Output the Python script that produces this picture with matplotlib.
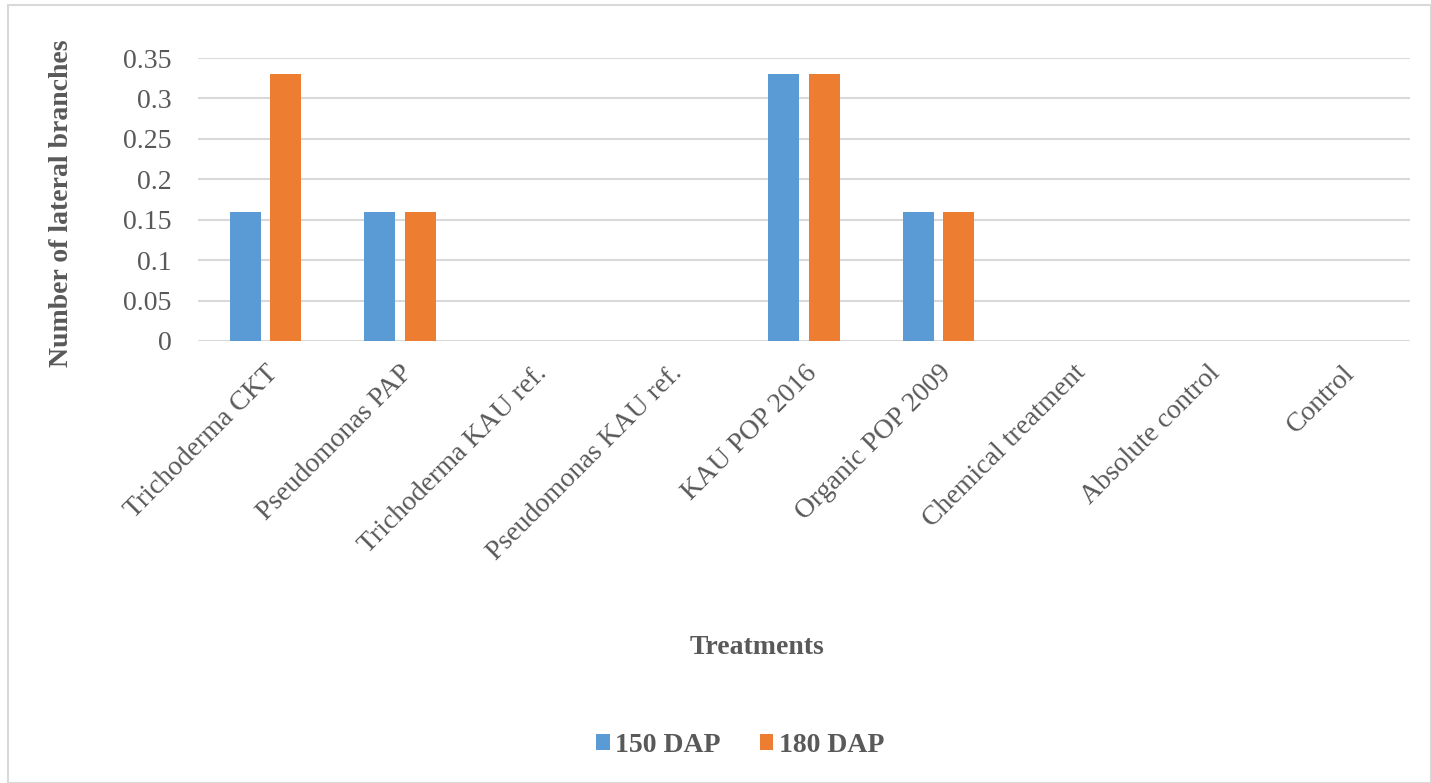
import matplotlib
matplotlib.use("Agg")
import matplotlib.pyplot as plt
import numpy as np
from matplotlib.patches import Rectangle

categories = ["Trichoderma CKT", "Pseudomonas PAP", "Trichoderma KAU ref.",
              "Pseudomonas KAU ref.", "KAU POP 2016", "Organic POP 2009",
              "Chemical treatment", "Absolute control", "Control"]
dap150 = [0.16, 0.16, 0, 0, 0.33, 0.16, 0, 0, 0]
dap180 = [0.33, 0.16, 0, 0, 0.33, 0.16, 0, 0, 0]
series_names = ["150 DAP", "180 DAP"]
yticks = [0, 0.05, 0.1, 0.15, 0.2, 0.25, 0.3, 0.35]
ytick_labels = ["0", "0.05", "0.1", "0.15", "0.2", "0.25", "0.3", "0.35"]

plt.rcParams['font.family'] = ['Liberation Serif', 'DejaVu Serif']
txt = '#595959'

fig = plt.figure(figsize=(14.31, 7.83), dpi=100)
W, H = 1431, 783
ax = fig.add_axes([198/W, 1-341/H, (1410-198)/W, (341-58)/H])

x = np.arange(len(categories))
bw = 0.23
ax.bar(x - 0.15, dap150, bw, color='#5B9BD5', linewidth=0,
       label=series_names[0], zorder=3)
ax.bar(x + 0.15, dap180, bw, color='#ED7D31', linewidth=0,
       label=series_names[1], zorder=3)

ax.set_xlim(-0.5, len(categories) - 0.5)
ax.set_ylim(0, 0.35)
ax.set_yticks(yticks)
ax.set_yticklabels(ytick_labels, fontsize=20, color=txt)
ax.yaxis.grid(True, color='#D9D9D9', linewidth=1.5, zorder=0)
ax.set_axisbelow(True)
for s in ax.spines.values():
    s.set_visible(False)
ax.tick_params(axis='both', length=0)
ax.tick_params(axis='y', pad=19)
ax.set_xticks(x)
ax.set_xticklabels(categories, rotation=45, ha='right', rotation_mode='anchor',
                   fontsize=20, color=txt)
ax.tick_params(axis='x', pad=14)

fig.text(62/W, 1-203/H, "Number of lateral branches", rotation=90, ha='center',
         va='center', fontsize=20, fontweight='bold', color=txt)
fig.text(757/W, 1-648/H, "Treatments", ha='center', va='center',
         fontsize=20, fontweight='bold', color=txt)

leg = fig.legend(loc='center', bbox_to_anchor=(740/W, 1-745/H), ncol=2, frameon=False,
                 prop={'size': 20, 'weight': 'bold'}, handlelength=0.5, handleheight=0.5,
                 handletextpad=0.2, columnspacing=1.4)
for t in leg.get_texts():
    t.set_color(txt)

fig.patches.append(Rectangle((8/W, 0), 1 - 8/W, 1 - 5/H, transform=fig.transFigure,
                             fill=False, edgecolor='#D9D9D9', linewidth=1.5))

fig.savefig("out.png", dpi=100)
